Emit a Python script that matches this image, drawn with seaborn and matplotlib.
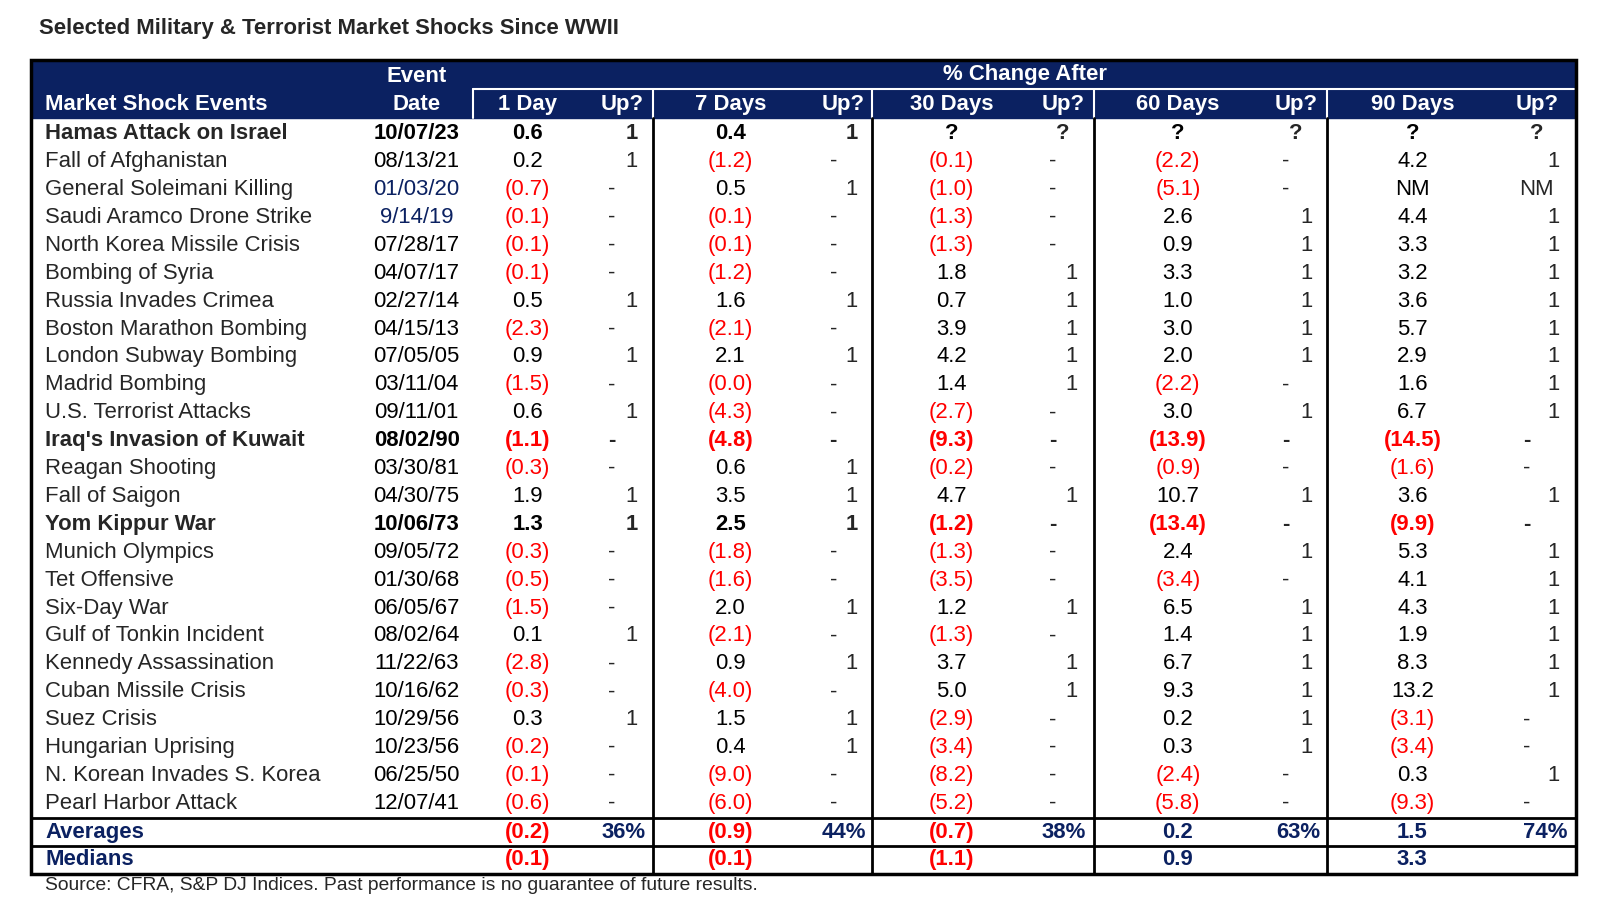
import matplotlib
matplotlib.use("Agg")
import matplotlib.pyplot as plt
import seaborn as sns

sns.set_theme(style="white")
plt.rcParams['font.family'] = ['Liberation Sans', 'DejaVu Sans']

names = ["Hamas Attack on Israel","Fall of Afghanistan","General Soleimani Killing","Saudi Aramco Drone Strike",
 "North Korea Missile Crisis","Bombing of Syria","Russia Invades Crimea","Boston Marathon Bombing",
 "London Subway Bombing","Madrid Bombing","U.S. Terrorist Attacks","Iraq's Invasion of Kuwait",
 "Reagan Shooting","Fall of Saigon","Yom Kippur War","Munich Olympics","Tet Offensive","Six-Day War",
 "Gulf of Tonkin Incident","Kennedy Assassination","Cuban Missile Crisis","Suez Crisis",
 "Hungarian Uprising","N. Korean Invades S. Korea","Pearl Harbor Attack"]
dates = ["10/07/23","08/13/21","01/03/20","9/14/19","07/28/17","04/07/17","02/27/14","04/15/13","07/05/05",
 "03/11/04","09/11/01","08/02/90","03/30/81","04/30/75","10/06/73","09/05/72","01/30/68","06/05/67",
 "08/02/64","11/22/63","10/16/62","10/29/56","10/23/56","06/25/50","12/07/41"]
bold_rows = [0, 11, 14]
blue_dates = [2, 3]
d1 = [0.6,0.2,-0.7,-0.1,-0.1,-0.1,0.5,-2.3,0.9,-1.5,0.6,-1.1,-0.3,1.9,1.3,-0.3,-0.5,-1.5,0.1,-2.8,-0.3,0.3,-0.2,-0.1,-0.6]
d7 = [0.4,-1.2,0.5,-0.1,-0.1,-1.2,1.6,-2.1,2.1,-0.04,-4.3,-4.8,0.6,3.5,2.5,-1.8,-1.6,2.0,-2.1,0.9,-4.0,1.5,0.4,-9.0,-6.0]
d30 = [None,-0.1,-1.0,-1.3,-1.3,1.8,0.7,3.9,4.2,1.4,-2.7,-9.3,-0.2,4.7,-1.2,-1.3,-3.5,1.2,-1.3,3.7,5.0,-2.9,-3.4,-8.2,-5.2]
d60 = [None,-2.2,-5.1,2.6,0.9,3.3,1.0,3.0,2.0,-2.2,3.0,-13.9,-0.9,10.7,-13.4,2.4,-3.4,6.5,1.4,6.7,9.3,0.2,0.3,-2.4,-5.8]
d90 = [None,4.2,"NM",4.4,3.3,3.2,3.6,5.7,2.9,1.6,6.7,-14.5,-1.6,3.6,-9.9,5.3,4.1,4.3,1.9,8.3,13.2,-3.1,-3.4,0.3,-9.3]
periods = ["1 Day","7 Days","30 Days","60 Days","90 Days"]
averages = [-0.2,-0.9,-0.7,0.2,1.5]
avg_up = ["36%","44%","38%","63%","74%"]
medians = [-0.1,-0.1,-1.1,0.9,3.3]

NAVY = "#0b2161"
RED = "#ff0000"
W, H = 1614, 911
K = 1.0287
fig = plt.figure(figsize=(W/100, H/100), dpi=100)
ax = fig.add_axes([0, 0, 1, 1])
ax.set_xlim(0, W / K); ax.set_ylim(H / K, 0); ax.axis("off")
FS = 15.5 * K

def fmt(v):
    if v is None: return "?", "black"
    if isinstance(v, str): return v, "black"
    if v < 0: return f"({abs(v):.1f})", RED
    return f"{v:.1f}", "black"

def up(v):
    if v is None: return "?"
    if isinstance(v, str): return v
    return "1" if v > 0 else "-"

ax.text(38, 28, "Selected Military & Terrorist Market Shocks Since WWII", fontsize=FS, weight="bold", va="center")
ax.add_patch(plt.Rectangle((30, 58), 1502, 57, color=NAVY, zorder=1))
ax.add_patch(plt.Rectangle((30, 58), 1502, 792, fill=False, ec="black", lw=2.5, zorder=3))
ax.plot([460, 1530], [87, 87], color="white", lw=1.5, zorder=2)
for x in [460, 635, 848, 1063, 1290]:
    ax.plot([x, x], [87, 115], color="white", lw=1.5, zorder=2)
for x in [635, 848, 1063, 1290]:
    ax.plot([x, x], [115, 850], color="black", lw=2, zorder=2)
for y in [795, 822]:
    ax.plot([30, 1532], [y, y], color="black", lw=2, zorder=2)

hk = dict(color="white", weight="bold", fontsize=FS, va="center", zorder=4)
ax.text(44, 102, "Market Shock Events", ha="left", **hk)
ax.text(405, 74, "Event", ha="center", **hk)
ax.text(405, 102, "Date", ha="center", **hk)
ax.text(996, 72, "% Change After", ha="center", **hk)
val_x = [513, 710, 925, 1145, 1373]
up_r = [620, 834, 1048, 1276, 1516]
up_h = [605, 820, 1033, 1260, 1494]
for i, p in enumerate(periods):
    ax.text(val_x[i], 102, p, ha="center", **hk)
    ax.text(up_h[i], 102, "Up?", ha="center", **hk)

series = [d1, d7, d30, d60, d90]
y0, dy = 130, 27.125
for r, nm in enumerate(names):
    y = y0 + r * dy
    w = "bold" if r in bold_rows else "normal"
    ax.text(44, y, nm, fontsize=FS, weight=w, va="center")
    ax.text(405, y, dates[r], fontsize=FS, weight=w, va="center", ha="center",
            color=NAVY if r in blue_dates else "black")
    for i, s in enumerate(series):
        t, c = fmt(s[r])
        ax.text(val_x[i], y, t, fontsize=FS, weight=w, va="center", ha="center", color=c)
        u = up(s[r])
        if u == "1":
            ax.text(up_r[i], y, u, fontsize=FS, weight=w, va="center", ha="right")
        else:
            ax.text(up_h[i] - 10 if u == "-" else up_h[i], y, u, fontsize=FS, weight=w, va="center", ha="center")

for label, y, vals, ups in [("Averages", 809, averages, avg_up), ("Medians", 836, medians, None)]:
    ax.text(44, y, label, fontsize=FS, weight="bold", color=NAVY, va="center")
    for i, v in enumerate(vals):
        t, c = fmt(v)
        ax.text(val_x[i], y, t, fontsize=FS, weight="bold", va="center", ha="center",
                color=RED if v < 0 else NAVY)
        if ups:
            ax.text(up_r[i] + 8, y, ups[i], fontsize=FS, weight="bold", va="center", ha="right", color=NAVY)

ax.text(44, 861, "Source: CFRA, S&P DJ Indices. Past performance is no guarantee of future results.",
        fontsize=13.5 * K, va="center")
fig.savefig("out.png", dpi=100)
